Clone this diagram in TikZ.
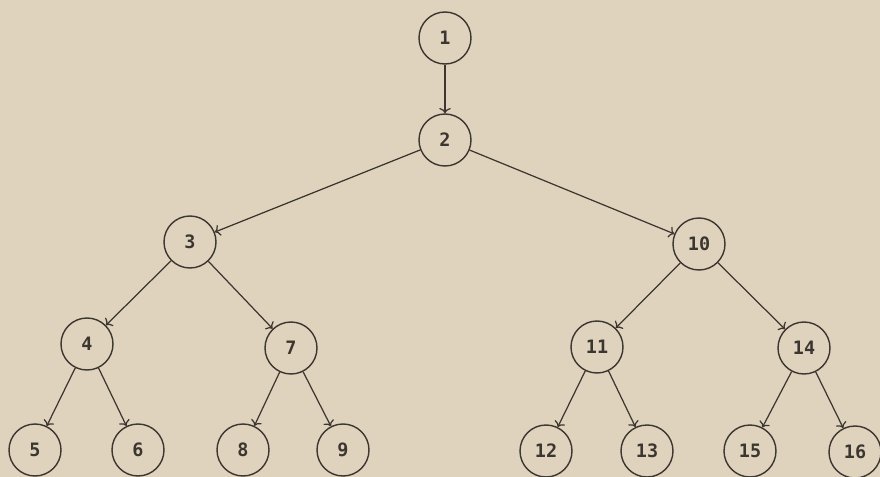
\documentclass[tikz,border=0pt]{standalone}
\usepackage{fontspec}
\setmonofont{DejaVu Sans Mono}
\usepackage{tikz}
\usetikzlibrary{arrows.meta}

\definecolor{paper}{RGB}{224,211,190}
\definecolor{ink}{RGB}{60,54,48}

\begin{document}
\begin{tikzpicture}[x=0.02cm, y=-0.02cm, >={To[length=3pt,width=6.5pt]},
  vertex/.style={draw=ink, circle, line width=0.8pt, minimum size=52*0.02cm, inner sep=0pt,
    font=\fontsize{10.5}{12}\selectfont\ttfamily\bfseries, text=ink},
  link/.style={->, draw=ink, line width=0.7pt}]
\fill[paper] (0,0) rectangle (880,477);
\useasboundingbox (0,0) rectangle (880,477);

\node (v1) at (445, 38) [vertex] {1};
\node (v2) at (445, 140) [vertex] {2};

\node (v3) at (190, 242) [vertex] {3};
\node (v10) at (699, 244) [vertex] {10};

\node (v4) at (87, 344) [vertex] {4};
\node (v7) at (291, 348) [vertex] {7};
\node (v11) at (597, 347) [vertex] {11};
\node (v14) at (804, 348) [vertex] {14};

\node (v5) at (35, 450) [vertex] {5};
\node (v6) at (138, 450) [vertex] {6};
\node (v8) at (243, 450) [vertex] {8};
\node (v9) at (343, 450) [vertex] {9};
\node (v12) at (546, 451) [vertex] {12};
\node (v13) at (647, 451) [vertex] {13};
\node (v15) at (750, 451) [vertex] {15};
\node (v16) at (855, 452) [vertex] {16};

\draw[link] (v1) -- (v2);
\draw[link] (v2) -- (v3);
\draw[link] (v2) -- (v10);
\draw[link] (v3) -- (v4);
\draw[link] (v3) -- (v7);
\draw[link] (v10) -- (v11);
\draw[link] (v10) -- (v14);
\draw[link] (v4) -- (v5);
\draw[link] (v4) -- (v6);
\draw[link] (v7) -- (v8);
\draw[link] (v7) -- (v9);
\draw[link] (v11) -- (v12);
\draw[link] (v11) -- (v13);
\draw[link] (v14) -- (v15);
\draw[link] (v14) -- (v16);
\end{tikzpicture}
\end{document}
